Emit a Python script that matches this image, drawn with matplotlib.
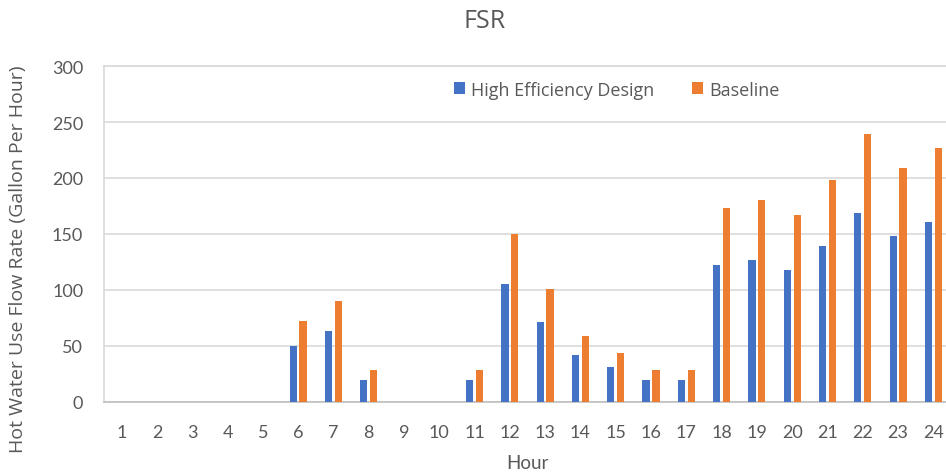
import matplotlib
matplotlib.use("Agg")
import matplotlib.pyplot as plt
import numpy as np

hours = list(range(1, 25))
high_eff = [0, 0, 0, 0, 0, 50, 63, 20, 0, 0, 20, 105, 71, 42, 31, 20, 20, 122, 127, 118, 139, 169, 148, 161]
baseline = [0, 0, 0, 0, 0, 72, 90, 29, 0, 0, 29, 150, 101, 59, 44, 29, 29, 173, 180, 167, 198, 239, 209, 227]
yticks = [0, 50, 100, 150, 200, 250, 300]

plt.rcParams['font.family'] = ['Lato', 'DejaVu Sans']
txt = '#595959'

fig = plt.figure(figsize=(9.46, 4.77), dpi=100)
ax = fig.add_axes([104/946, 74/477, 847/946, 336/477])

x = np.array(hours)
w = 0.205
ax.bar(x - 0.14, high_eff, width=w, color='#4472C4', label='High Efficiency Design', zorder=3)
ax.bar(x + 0.14, baseline, width=w, color='#ED7D31', label='Baseline', zorder=3)

ax.set_xlim(0.5, 24.5)
ax.set_ylim(0, 300)
ax.set_yticks(yticks)
ax.set_xticks(hours)
ax.set_xticklabels([str(h) for h in hours])
ax.grid(axis='y', color='#D9D9D9', linewidth=1.2, zorder=0)
ax.tick_params(axis='both', length=0, labelsize=13, colors=txt)
ax.tick_params(axis='x', pad=16)
ax.tick_params(axis='y', pad=15)
for s in ['left', 'top']:
    ax.spines[s].set_color('#D9D9D9')
    ax.spines[s].set_linewidth(1.2)
ax.spines['right'].set_visible(False)
ax.spines['bottom'].set_color('#BFBFBF')
ax.spines['bottom'].set_linewidth(1.2)

ax.set_xlabel('Hour', fontsize=13.5, color=txt, labelpad=10)
fig.text(18/946, 1 - 259/477, 'Hot Water Use Flow Rate (Gallon Per Hour)', rotation=90,
         fontsize=14, color=txt, ha='center', va='center', family=['Open Sans', 'DejaVu Sans'])
fig.text(485/946, 1 - 22/477, 'FSR', fontsize=18, color=txt, ha='center', va='center',
         family=['Open Sans', 'DejaVu Sans'])

ax.legend(loc='upper center', bbox_to_anchor=(0.5 + (617 - 527.5)/847, 1.005), ncol=2, frameon=False,
          prop={'family': ['Open Sans', 'DejaVu Sans'], 'size': 13}, labelcolor=txt,
          handlelength=0.6, handleheight=0.6, columnspacing=2.1, handletextpad=0.35)

fig.savefig('out.png', dpi=100)
